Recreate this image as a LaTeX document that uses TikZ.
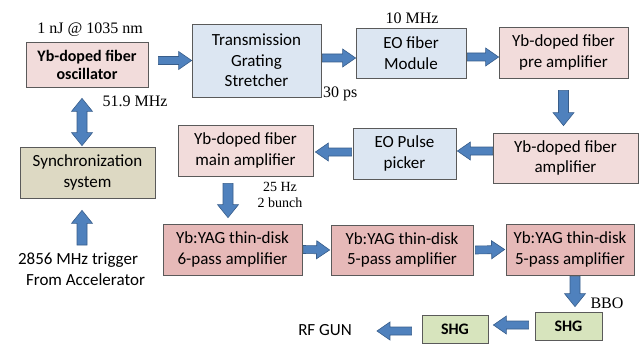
\documentclass[tikz,border=0pt]{standalone}
\usepackage{fontspec}
\setmainfont{Carlito}
\newfontfamily\timesf{Liberation Serif}
\usetikzlibrary{calc}
\definecolor{pinkbox}{HTML}{F2DCDB}
\definecolor{bluebox}{HTML}{DCE6F2}
\definecolor{tanbox}{HTML}{DDD9C3}
\definecolor{rosebox}{HTML}{E6B9B8}
\definecolor{greenbox}{HTML}{D7E4BD}
\definecolor{boxline}{HTML}{5A5A5A}
\definecolor{arrfill}{HTML}{4F81BD}
\definecolor{arrline}{HTML}{385D8A}
\tikzset{
  bw/.store in=\barw, bh/.store in=\barh, bL/.store in=\barl,
  bw=4pt, bh=9pt, bL=13pt,
  box/.style={draw=boxline, line width=0.75pt, inner sep=0pt, align=center,
    font=\fontsize{17}{20.5}\selectfont},
  boldbox/.style={box, font=\fontsize{16}{18}\selectfont\bfseries},
  lbl/.style={inner sep=0pt, font=\timesf\fontsize{16}{18}\selectfont},
  smalllbl/.style={inner sep=0pt, font=\timesf\fontsize{14}{16}\selectfont},
  plain/.style={inner sep=0pt, font=\fontsize{17}{20.5}\selectfont},
  barrow/.style={draw=arrline, fill=arrfill, line width=0.6pt, line join=miter,
    to path={
      ($(\tikztostart)!\barw!90:(\tikztotarget)$) --
      ($($(\tikztotarget)!\barl!(\tikztostart)$)!\barw!90:(\tikztotarget)$) --
      ($($(\tikztotarget)!\barl!(\tikztostart)$)!\barh!90:(\tikztotarget)$) --
      (\tikztotarget) --
      ($($(\tikztotarget)!\barl!(\tikztostart)$)!\barh!-90:(\tikztotarget)$) --
      ($($(\tikztotarget)!\barl!(\tikztostart)$)!\barw!-90:(\tikztotarget)$) --
      ($(\tikztostart)!\barw!-90:(\tikztotarget)$) -- cycle}},
  dbarrow/.style={draw=arrline, fill=arrfill, line width=0.6pt, line join=miter,
    to path={
      (\tikztostart) --
      ($($(\tikztostart)!\barl!(\tikztotarget)$)!\barh!90:(\tikztotarget)$) --
      ($($(\tikztostart)!\barl!(\tikztotarget)$)!\barw!90:(\tikztotarget)$) --
      ($($(\tikztotarget)!\barl!(\tikztostart)$)!\barw!90:(\tikztotarget)$) --
      ($($(\tikztotarget)!\barl!(\tikztostart)$)!\barh!90:(\tikztotarget)$) --
      (\tikztotarget) --
      ($($(\tikztotarget)!\barl!(\tikztostart)$)!\barh!-90:(\tikztotarget)$) --
      ($($(\tikztotarget)!\barl!(\tikztostart)$)!\barw!-90:(\tikztotarget)$) --
      ($($(\tikztostart)!\barl!(\tikztotarget)$)!\barw!-90:(\tikztotarget)$) --
      ($($(\tikztostart)!\barl!(\tikztotarget)$)!\barh!-90:(\tikztotarget)$) -- cycle}},
  vert/.style={bw=5pt, bh=10.5pt, bL=13pt}
}
\begin{document}
\begin{tikzpicture}[x=1pt,y=-1pt]
\useasboundingbox (0,0) rectangle (642,345);
% boxes
\node[boldbox, fill=pinkbox, minimum width=122pt, minimum height=45pt] (osc) at (87,64.5) {Yb-doped fiber\\oscillator};
\node[box, fill=bluebox, minimum width=129pt, minimum height=73pt] (stretch) at (256.5,60.5) {Transmission\\Grating\\Stretcher};
\node[box, fill=bluebox, minimum width=110pt, minimum height=50pt] (eofm) at (411,53) {EO fiber\\Module};
\node[box, fill=pinkbox, minimum width=129pt, minimum height=51pt] (preamp) at (563.5,52.5) {Yb-doped fiber\\pre amplifier};
\node[box, fill=pinkbox, minimum width=145pt, minimum height=50pt] (amp) at (565.5,158) {Yb-doped fiber\\amplifier};
\node[box, fill=bluebox, minimum width=103pt, minimum height=51pt] (picker) at (404.5,153.5) {EO Pulse\\picker};
\node[box, fill=pinkbox, minimum width=135pt, minimum height=51pt] (main) at (245.5,150.5) {Yb-doped fiber\\main amplifier};
\node[box, fill=tanbox, minimum width=135pt, minimum height=51pt] (sync) at (87.5,172.5) {Synchronization\\system};
\node[box, fill=rosebox, minimum width=139pt, minimum height=51pt] (six) at (232.5,249.5) {Yb:YAG thin-disk\\6-pass amplifier};
\node[box, fill=rosebox, minimum width=142pt, minimum height=50pt] (fiveA) at (402,250) {Yb:YAG thin-disk\\5-pass amplifier};
\node[box, fill=rosebox, minimum width=128pt, minimum height=51pt] (fiveB) at (570,249.5) {Yb:YAG thin-disk\\5-pass amplifier};
\node[boldbox, fill=greenbox, minimum width=66pt, minimum height=28pt] (shgA) at (455,329) {SHG};
\node[boldbox, fill=greenbox, minimum width=67pt, minimum height=28pt] (shgB) at (568.5,326) {SHG};
% labels
\node[lbl] (nj) at (90,30) {1 nJ @ 1035 nm};
\node[lbl] (f519) at (135,101) {51.9 MHz};
\node[lbl] (f10) at (412,18) {10 MHz};
\node[lbl, anchor=west] (ps30) at (323,94) {30 ps};
\node[smalllbl] (hz25) at (280,187) {25 Hz};
\node[smalllbl] (bunch) at (280,203) {2 bunch};
\node[lbl] (bbo) at (607,303) {BBO};
\node[plain] (trig) at (78,260) {2856 MHz trigger};
\node[plain] (accel) at (85.5,280) {From Accelerator};
\node[plain] (rfgun) at (325,330) {RF GUN};
\coordinate (trigtop) at (82,245);
% arrows
\draw[barrow] ([xshift=10pt,yshift=4pt]osc.east) to (stretch.west);
\draw[barrow] ([xshift=1pt,yshift=2.5pt]stretch.east) to ([yshift=-5pt]eofm.west);
\draw[barrow] ([xshift=1pt,yshift=-4pt]eofm.east) to ([yshift=-4.5pt]preamp.west);
\draw[barrow, vert] ([yshift=-12pt]preamp.south) to ([xshift=-2pt,yshift=7pt]amp.north);
\draw[barrow] ([yshift=7pt]amp.west) to ([xshift=1pt,yshift=2.5pt]picker.east);
\draw[barrow] ([xshift=-1pt,yshift=1.5pt]picker.west) to ([xshift=2pt,yshift=-1.5pt]main.east);
\draw[barrow, vert] ([xshift=-17.5pt,yshift=-7pt]main.south) to ([xshift=-4.5pt,yshift=6pt]six.north);
\draw[barrow] ([xshift=1pt]six.east) to ([xshift=-1pt]fiveA.west);
\draw[barrow] ([xshift=2pt]fiveA.east) to ([xshift=-1pt]fiveB.west);
\draw[barrow, vert] ([xshift=5pt,yshift=-1pt]fiveB.south) to ([xshift=6.5pt,yshift=5pt]shgB.north);
\draw[barrow] ([xshift=-6pt,yshift=1pt]shgB.west) to ([xshift=5pt,yshift=4pt]shgA.east);
\draw[barrow] ([xshift=-10pt,yshift=-2pt]shgA.west) to ([xshift=25pt,yshift=-1pt]rfgun.east);
\draw[dbarrow, vert] ([xshift=-5pt,yshift=-11pt]osc.south) to ([xshift=-5.5pt,yshift=1pt]sync.north);
\draw[barrow, vert] (trigtop) to ([xshift=-5.5pt,yshift=-12pt]sync.south);
\end{tikzpicture}
\end{document}
